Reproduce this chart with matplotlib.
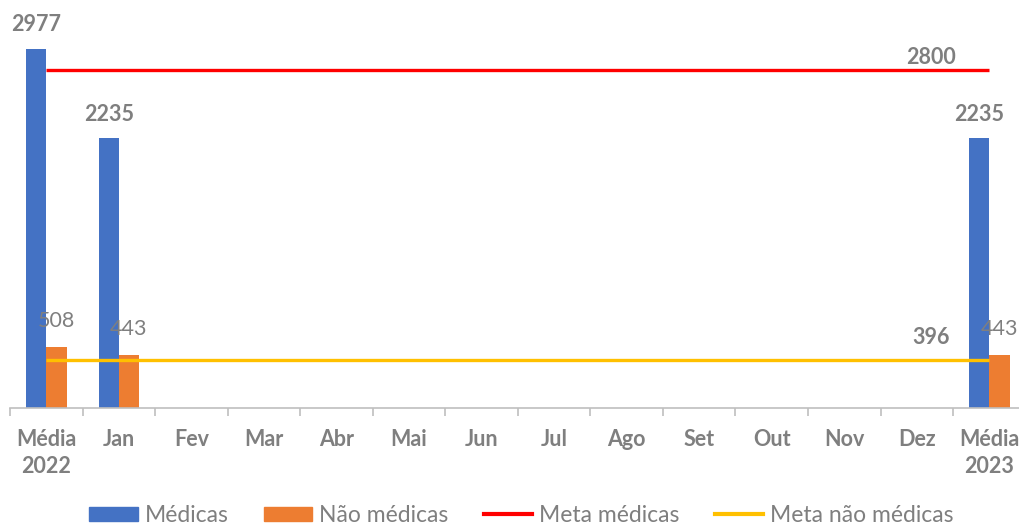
import numpy as np
import matplotlib
matplotlib.use("Agg")
import matplotlib.pyplot as plt
from matplotlib.patches import Patch
from matplotlib.lines import Line2D

plt.rcParams['font.family'] = ['Lato', 'DejaVu Sans']

categories = ["Média\n2022", "Jan", "Fev", "Mar", "Abr", "Mai", "Jun", "Jul",
              "Ago", "Set", "Out", "Nov", "Dez", "Média\n2023"]
medicas = [2977, 2235, None, None, None, None, None, None, None, None, None, None, None, 2235]
nao_medicas = [508, 443, None, None, None, None, None, None, None, None, None, None, None, 443]
meta_medicas = 2800
meta_nao_medicas = 396

BLUE = "#4472C4"
ORANGE = "#ED7D31"
RED = "#FF0000"
YELLOW = "#FFC000"
GRAY = "#7f7f7f"

fig = plt.figure(figsize=(10.2, 5.28), dpi=100)
ax = fig.add_axes([10 / 1020, 120 / 528, 1015.6 / 1020, 361.8 / 528])

n = len(categories)
x = np.arange(n)
med = np.array([np.nan if v is None else v for v in medicas], dtype=float)
nao = np.array([np.nan if v is None else v for v in nao_medicas], dtype=float)
w = 0.28

ax.bar(x - w / 2, np.nan_to_num(med), width=w, color=BLUE, zorder=2)
ax.bar(x + w / 2, np.nan_to_num(nao), width=w, color=ORANGE, zorder=2)
ax.plot([x[0], x[-1]], [meta_medicas, meta_medicas], color=RED, lw=2.4, zorder=3,
        solid_capstyle='butt')
ax.plot([x[0], x[-1]], [meta_nao_medicas, meta_nao_medicas], color=YELLOW, lw=2.4, zorder=3,
        solid_capstyle='butt')

FS = 15.5
for i in range(n):
    if not np.isnan(med[i]):
        ax.annotate(f"{int(med[i])}", (x[i] - w / 2, med[i]), xytext=(0, 24),
                    textcoords="offset pixels", ha="center", va="center",
                    fontsize=FS, fontweight="bold", color=GRAY, annotation_clip=False,
                    zorder=6)
    if not np.isnan(nao[i]):
        ax.annotate(f"{int(nao[i])}", (x[i] + w / 2, nao[i]), xytext=(0, 26),
                    textcoords="offset pixels", ha="center", va="center",
                    fontsize=FS, color=GRAY, annotation_clip=False, zorder=6)

ax.annotate(f"{meta_medicas}", (12.2, meta_medicas), xytext=(0, 13),
            textcoords="offset pixels", ha="center", va="center",
            fontsize=FS, fontweight="bold", color=GRAY, annotation_clip=False, zorder=6)
ax.annotate(f"{meta_nao_medicas}", (12.2, meta_nao_medicas), xytext=(0, 23),
            textcoords="offset pixels", ha="center", va="center",
            fontsize=FS, fontweight="bold", color=GRAY, annotation_clip=False, zorder=6)

ax.set_xlim(-0.5, n - 0.5)
ax.set_ylim(0, 3000)
for s in ["top", "right", "left"]:
    ax.spines[s].set_visible(False)
ax.spines["bottom"].set_color("#bfbfbf")
ax.spines["bottom"].set_linewidth(1.2)
ax.set_yticks([])
ax.set_xticks(x)
ax.set_xticklabels(categories, fontsize=FS, fontweight="bold", color=GRAY,
                   linespacing=1.35)
ax.tick_params(axis="x", which="major", length=0, pad=15)
ax.set_xticks(np.arange(-0.5, n, 1.0), minor=True)
ax.tick_params(axis="x", which="minor", length=6, color="#bfbfbf", width=1.2)

handles = [Patch(color=BLUE), Patch(color=ORANGE),
           Line2D([], [], color=RED, lw=3), Line2D([], [], color=YELLOW, lw=3)]
labels = ["Médicas", "Não médicas", "Meta médicas", "Meta não médicas"]
leg = fig.legend(handles, labels, loc="center", bbox_to_anchor=(0.511, 0.024),
                 ncol=4, frameon=False, fontsize=16.5, handlelength=2.1,
                 handleheight=0.55, handletextpad=0.3, columnspacing=1.55,
                 borderpad=0.1)
for t in leg.get_texts():
    t.set_color(GRAY)

fig.savefig("out.png", dpi=100)
